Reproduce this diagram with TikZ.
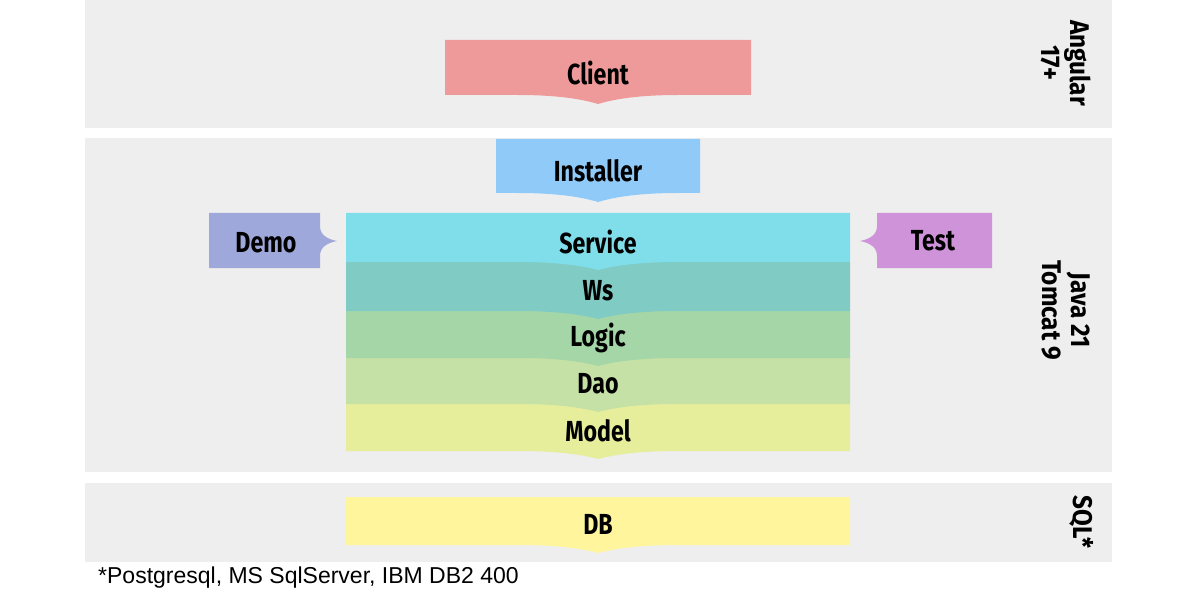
\documentclass[tikz,border=0pt]{standalone}
\usepackage{fontspec}
\setmainfont{Liberation Sans}
\newfontfamily\labfont[FakeStretch=0.8]{Fira Sans}
\newfontfamily\sidefont[FakeStretch=0.9]{Fira Sans}
\definecolor{bandgray}{HTML}{EEEEEE}
\definecolor{cClient}{HTML}{EF9A9A}
\definecolor{cInst}{HTML}{90CAF9}
\definecolor{cDemo}{HTML}{9FA8DA}
\definecolor{cTest}{HTML}{CE93D8}
\definecolor{cServ}{HTML}{80DEEA}
\definecolor{cWs}{HTML}{80CBC4}
\definecolor{cLogic}{HTML}{A5D6A7}
\definecolor{cDao}{HTML}{C5E1A5}
\definecolor{cModel}{HTML}{E6EE9C}
\definecolor{cDB}{HTML}{FFF59D}
\tikzset{
  band/.style={fill=bandgray, draw=none},
  lab/.style={font=\labfont\bfseries\fontsize{29}{32}\selectfont, text=black, inner sep=0pt},
  side/.style={font=\sidefont\bfseries\fontsize{27}{29}\selectfont, text=black, rotate=-90, align=center, inner sep=0pt},
}
% \dbox{x1}{y1}{x2}{y2}{color}{dip}
\newcommand\dbox[6]{%
  \fill[#5] (#1,#2) -- (#3,#2) -- (#3,#4)
    -- ({(#1+#3)/2+80},#4) .. controls ({(#1+#3)/2+35},#4) and ({(#1+#3)/2+12},{#4+#6*0.6}) .. ({(#1+#3)/2},{#4+#6})
    .. controls ({(#1+#3)/2-12},{#4+#6*0.6}) and ({(#1+#3)/2-35},#4) .. ({(#1+#3)/2-80},#4)
    -- (#1,#4) -- cycle;}
\begin{document}
\begin{tikzpicture}[x=1pt,y=-1pt]
\useasboundingbox[fill=white] (0,0) rectangle (1195,591);
% bands
\fill[band] (85,0) rectangle (1112,128);
\fill[band] (85,138) rectangle (1112,472);
\fill[band] (85,483) rectangle (1112,562);
% client
\dbox{445}{40}{751}{95}{cClient}{9}
\node[lab] (client) at (598,73) {Client};
% installer
\dbox{496}{139}{700}{193}{cInst}{9}
\node[lab] (installer) at (598,171) {Installer};
% layers (bottom first)
\dbox{346}{404}{850}{451}{cModel}{8}
\dbox{346}{358}{850}{404}{cDao}{8}
\dbox{346}{311}{850}{358}{cLogic}{8}
\dbox{346}{262}{850}{311}{cWs}{8}
\dbox{346}{213}{850}{262}{cServ}{8}
\node[lab] (service) at (598,242) {Service};
\node[lab] (ws) at (598,291) {Ws};
\node[lab] (logic) at (598,338) {Logic};
\node[lab] (dao) at (598,384) {Dao};
\node[lab] (model) at (598,431) {Model};
% DB
\dbox{346}{497}{850}{545}{cDB}{8}
\node[lab] (db) at (598,524) {DB};
% Demo
\fill[cDemo] (209,213) -- (320,213) -- (320,226)
  .. controls (320,234) and (326,239) .. (337,241)
  .. controls (326,243) and (320,248) .. (320,256)
  -- (320,268) -- (209,268) -- cycle;
\node[lab] (demo) at (266,243) {Demo};
% Test
\fill[cTest] (992,213) -- (877,213) -- (877,226)
  .. controls (877,234) and (871,239) .. (860,241)
  .. controls (871,243) and (877,248) .. (877,256)
  -- (877,268) -- (992,268) -- cycle;
\node[lab] (test) at (933,241) {Test};
% side labels
\node[side] (angular) at (1066,63) {Angular\\17+};
\node[side] (java) at (1066,310) {Java 21\\Tomcat 9};
\node[side] (sql) at (1082,522) {SQL*};
% footnote
\node[anchor=base west, font=\fontsize{23}{26}\selectfont, inner sep=0pt] (note) at (98,583) {*Postgresql, MS SqlServer, IBM DB2 400};
\end{tikzpicture}
\end{document}
